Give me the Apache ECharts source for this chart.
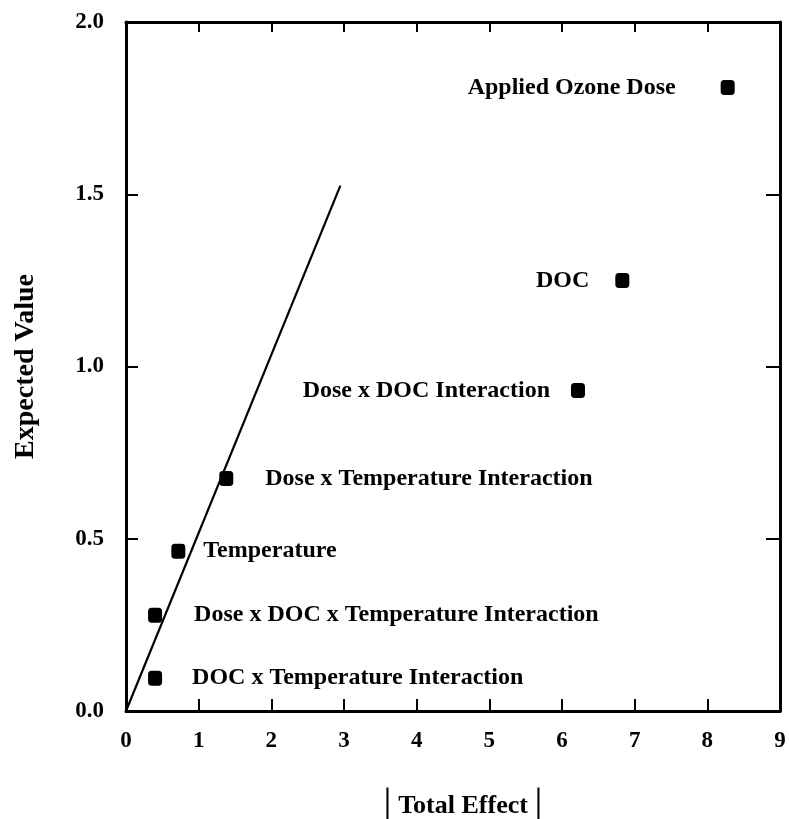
<!DOCTYPE html>
<html>
<head>
<meta charset="utf-8">
<script src="https://cdn.jsdelivr.net/npm/echarts@6/dist/echarts.min.js"></script>
<style>html,body{margin:0;padding:0;background:#fff}#c{width:789px;height:819px}</style>
</head>
<body>
<div id="c"></div>
<script>
// Data
const effectNames = ["Applied Ozone Dose", "DOC", "Dose x DOC Interaction", "Dose x Temperature Interaction", "Temperature", "Dose x DOC x Temperature Interaction", "DOC x Temperature Interaction"];
const totalEffect = [8.28, 6.83, 6.22, 1.38, 0.72, 0.40, 0.40];
const expectedValue = [1.81, 1.25, 0.93, 0.675, 0.464, 0.278, 0.095];
const lineX = [0, 2.95];
const lineY = [0, 1.525];
const xTicks = [0, 1, 2, 3, 4, 5, 6, 7, 8, 9];
const yTicks = [0.0, 0.5, 1.0, 1.5, 2.0];

// label placement (style only)
const labelSide = ["left", "left", "left", "right", "right", "right", "right"];
const labelGap = [45, 26, 21, 32, 18, 32, 30];

const FONT = '"Liberation Serif", "DejaVu Serif", serif';
const chart = echarts.init(document.getElementById('c'));

const axisLineStyle = { color: '#000', width: 3 };
const pts = totalEffect.map((x, i) => ({
  value: [x, expectedValue[i]],
  label: { show: true, formatter: effectNames[i], position: labelSide[i], distance: labelGap[i] }
}));

chart.setOption({
  animation: false,
  grid: { left: 126, right: 9, top: 22, bottom: 108, containLabel: false, outerBoundsMode: 'none' },
  xAxis: [{
    type: 'value', min: 0, max: 9, interval: 1,
    position: 'bottom',
    name: '{bar||} Total Effect {bar||}',
    nameLocation: 'middle', nameGap: 74,
    nameTextStyle: {
      fontFamily: FONT, fontWeight: 'bold', fontSize: 26, color: '#000',
      padding: [0, 0, 0, 20],
      rich: { bar: { fontFamily: FONT, fontWeight: 'normal', fontSize: 42, color: '#000' } }
    },
    axisLine: { show: true, onZero: false, lineStyle: axisLineStyle },
    axisTick: { show: true, inside: true, length: 12, lineStyle: { color: '#000', width: 2 } },
    axisLabel: { show: true, margin: 19, fontFamily: FONT, fontWeight: 'bold', fontSize: 23, color: '#000',
      formatter: v => xTicks.includes(v) ? String(v) : '' },
    splitLine: { show: false }
  }, {
    type: 'value', min: 0, max: 9, interval: 1,
    position: 'top',
    axisLine: { show: true, onZero: false, lineStyle: axisLineStyle },
    axisTick: { show: true, inside: true, length: 10, lineStyle: { color: '#000', width: 2 } },
    axisLabel: { show: false },
    splitLine: { show: false }
  }],
  yAxis: [{
    type: 'value', min: 0, max: 2, interval: 0.5,
    position: 'left',
    name: 'Expected Value',
    nameLocation: 'middle', nameGap: 86, nameRotate: 90,
    nameTextStyle: { fontFamily: FONT, fontWeight: 'bold', fontSize: 28, color: '#000' },
    axisLine: { show: true, onZero: false, lineStyle: axisLineStyle },
    axisTick: { show: true, inside: true, length: 12, lineStyle: { color: '#000', width: 2 } },
    axisLabel: { show: true, margin: 22, fontFamily: FONT, fontWeight: 'bold', fontSize: 23, color: '#000',
      formatter: v => { const t = yTicks.find(y => Math.abs(y - v) < 1e-9); return t === undefined ? '' : t.toFixed(1); } },
    splitLine: { show: false }
  }, {
    type: 'value', min: 0, max: 2, interval: 0.5,
    position: 'right',
    axisLine: { show: true, onZero: false, lineStyle: axisLineStyle },
    axisTick: { show: true, inside: true, length: 14, lineStyle: { color: '#000', width: 2 } },
    axisLabel: { show: false },
    splitLine: { show: false }
  }],
  series: [{
    type: 'line',
    data: lineX.map((x, i) => [x, lineY[i]]),
    showSymbol: false, symbol: 'none',
    lineStyle: { color: '#000', width: 2.2 },
    z: 2
  }, {
    type: 'scatter',
    data: pts,
    symbol: 'roundRect', symbolSize: [14, 15],
    itemStyle: { color: '#000', opacity: 1 },
    label: { fontFamily: FONT, fontWeight: 'bold', fontSize: 24, color: '#000' },
    z: 3
  }]
});
</script>
</body>
</html>
